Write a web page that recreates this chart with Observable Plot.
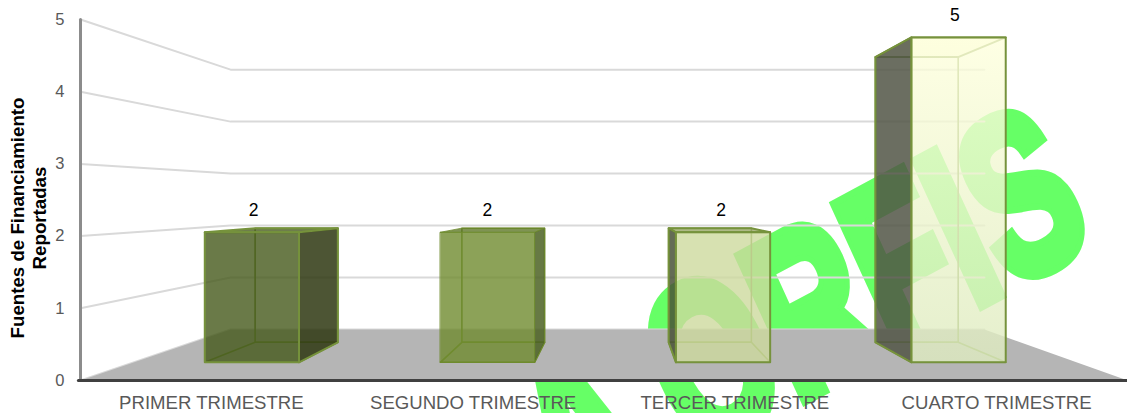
<!DOCTYPE html>
<html>
<head>
<meta charset="utf-8">
<script src="https://cdn.jsdelivr.net/npm/d3@7"></script>
<script src="https://cdn.jsdelivr.net/npm/@observablehq/plot@0.6"></script>
<style>
html,body{margin:0;padding:0;background:#fff}
svg{display:block}
</style>
</head>
<body>
<div id="chart"></div>
<script>
const categories = ["PRIMER TRIMESTRE", "SEGUNDO TRIMESTRE", "TERCER TRIMESTRE", "CUARTO TRIMESTRE"];
const values = [2, 2, 2, 5];
const valueTicks = [0, 1, 2, 3, 4, 5];
const yTitle = "Fuentes de Financiamiento\nReportadas";
const watermark = "A ORFIS";

const frontFills = ["#45591a", "#6f8b2e", "#cdd99d", "url(#bar4front)"];
const sideFills = ["#2e3711", "#4c6123", "#495137", "#515545"];
const topFills = ["#4a5c1f", "#5f7828", "#9aa868", "#fdfde0"];
const edgeColors = ["#76923c", "#6f8b2e", "#76923c", "#76923c"];
const edgeWidths = [2, 0.8, 2, 2];

// perspective camera, in chart units (category widths, value units)
const vanishX = 2.048, vanishY = 2.52;
const frontDepth = 0.9, backDepth = 0.79, wallDepth = 0.72;
const halfBar = 0.2;
const px = (x, s) => vanishX + (x - vanishX) * s;
const py = (v, s) => vanishY + (v - vanishY) * s;
const pt = (x, v, s) => ({x: px(x, s), y: py(v, s)});

const bars = categories.map((c, i) => ({c, i, v: values[i], x0: i + 0.5 - halfBar, x1: i + 0.5 + halfBar}));

const poly = (pts, o) => Plot.line(pts, {x: "x", y: "y", curve: "linear-closed", ...o});
const seg = (pts, o) => Plot.line(pts, {x: "x", y: "y", ...o});

function barMarks(b) {
  const {x0, x1, v, i} = b, f = frontDepth, k = backDepth;
  const stroke = edgeColors[i], sw = edgeWidths[i];
  const showRight = (x0 + x1) / 2 < vanishX;
  const sideX = showRight ? x1 : x0;
  const side = [pt(sideX, 0, f), pt(sideX, v, f), pt(sideX, v, k), pt(sideX, 0, k)];
  const back = [pt(x0, 0, k), pt(x1, 0, k), pt(x1, v, k), pt(x0, v, k)];
  const bottom = [pt(x0, 0, f), pt(x1, 0, f), pt(x1, 0, k), pt(x0, 0, k)];
  const top = [pt(x0, v, f), pt(x1, v, f), pt(x1, v, k), pt(x0, v, k)];
  const front = [pt(x0, 0, f), pt(x1, 0, f), pt(x1, v, f), pt(x0, v, f)];
  return [
    poly(back, {fill: "none", stroke, strokeWidth: 1.6}),
    poly(bottom, {fill: "none", stroke, strokeWidth: 1.6}),
    poly(top, {fill: topFills[i], fillOpacity: 0.8, stroke, strokeWidth: sw}),
    poly(side, {fill: sideFills[i], fillOpacity: 0.85, stroke, strokeWidth: sw, strokeLinejoin: "round"}),
    poly(front, {fill: frontFills[i], fillOpacity: 0.8, stroke, strokeWidth: sw})
  ];
}

const gridMarks = valueTicks.map(t => seg(
  [pt(0, t, 1), pt(0, t, wallDepth), pt(4, t, wallDepth)],
  {stroke: "#d9d9d9", strokeWidth: 2}
));

const floor = [pt(0, 0, 1), pt(4, 0, 1), pt(4, 0, wallDepth), pt(0, 0, wallDepth)];

const plot = Plot.plot({
  width: 1127,
  height: 413,
  marginLeft: 80,
  marginRight: 0,
  marginTop: 19,
  marginBottom: 33,
  style: {fontFamily: "'Liberation Sans', Arial, sans-serif", background: "#fff", overflow: "hidden"},
  x: {domain: [0, 4]},
  y: {domain: [0, 5]},
  marks: [
    // watermark
    Plot.text([watermark], {
      x: [3.885], y: [1.93], text: d => d,
      textAnchor: "end", lineAnchor: "bottom",
      fontSize: 250, fontWeight: "bold", fill: "#66ff66", stroke: "#66ff66", strokeWidth: 15,
      strokeLinejoin: "miter", className: "wm"
    }),
    ...gridMarks,
    poly(floor, {fill: "#b5b5b5"}),
    seg([{x: 0, y: 0}, {x: 0, y: 5}], {stroke: "#8c8c8c", strokeWidth: 3}),
    seg([{x: -0.008, y: 0}, {x: 4, y: 0}], {stroke: "#404040", strokeWidth: 3}),
    ...bars.flatMap(barMarks),
    Plot.axisY({ticks: valueTicks, tickSize: 0, tickPadding: 16, label: null, fontSize: 16.5, color: "#595959", tickFormat: d => d}),
    Plot.axisX({ticks: categories.map((c, i) => i + 0.5), tickSize: 0, tickPadding: 15, label: null, fontSize: 18.6, color: "#595959", tickFormat: (d) => categories[Math.floor(d)]}),
    Plot.text(bars, {
      x: b => px(b.i + 0.5, 0.893), y: b => py(b.v, frontDepth), text: b => String(b.v),
      dx: -1, dy: -22, fontSize: 17.5, fill: "#000"
    }),
    Plot.text([yTitle], {
      frameAnchor: "left", dx: -53, dy: 18, rotate: -90, text: d => d,
      fontSize: 18.7, fontWeight: "bold", fill: "#000", lineHeight: 1.18, textAnchor: "middle", className: "ytitle"
    })
  ]
});

// shear the watermark to the slant it has in the picture
const wm = plot.querySelector(".wm text");
if (wm) {
  const t = wm.getAttribute("transform") || "";
  wm.setAttribute("transform", t + " matrix(0.53 -0.285 0.375 0.82 0 0)");
}
// vertical gradient of the fourth bar front
const ns = "http://www.w3.org/2000/svg";
const defs = document.createElementNS(ns, "defs");
const grad = document.createElementNS(ns, "linearGradient");
grad.setAttribute("id", "bar4front");
grad.setAttribute("x1", "0"); grad.setAttribute("y1", "0");
grad.setAttribute("x2", "0"); grad.setAttribute("y2", "1");
[["0", "#feffdd"], ["1", "#deebc0"]].forEach(([o, c]) => {
  const s = document.createElementNS(ns, "stop");
  s.setAttribute("offset", o); s.setAttribute("stop-color", c);
  grad.appendChild(s);
});
defs.appendChild(grad);
plot.insertBefore(defs, plot.firstChild);
document.getElementById("chart").appendChild(plot);
</script>
</body>
</html>
